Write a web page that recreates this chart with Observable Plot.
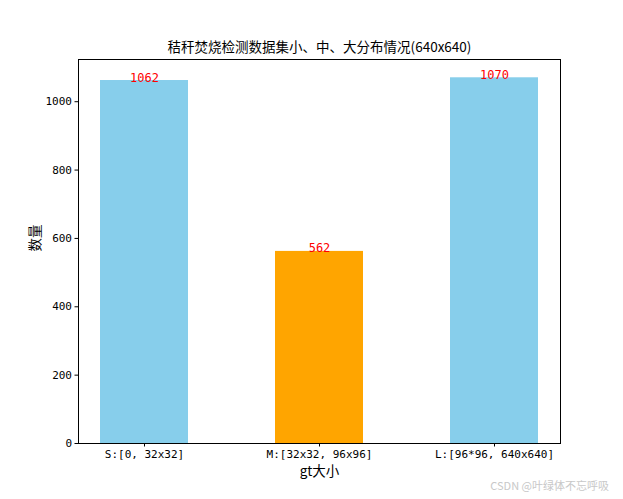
<!DOCTYPE html>
<html>
<head>
<meta charset="utf-8">
<script src="https://cdn.jsdelivr.net/npm/d3@7"></script>
<script src="https://cdn.jsdelivr.net/npm/@observablehq/plot@0.6"></script>
<style>
  html, body { margin: 0; padding: 0; background: #fff; }
  #wrap { position: relative; width: 623px; height: 499px; }
  #wm { position: absolute; right: 14px; bottom: 6px; font: 11px "Noto Sans CJK SC", sans-serif; color: #c8c8c8; }
</style>
</head>
<body>
<div id="wrap"><div id="chart"></div><div id="wm">CSDN @叶绿体不忘呼吸</div></div>
<script>
const categories = ["S:[0, 32x32]", "M:[32x32, 96x96]", "L:[96*96, 640x640]"];
const counts = [1062, 562, 1070];
const barColors = ["#87CEEB", "#FFA500", "#87CEEB"];
const yTicks = [0, 200, 400, 600, 800, 1000];
const title = "秸秆焚烧检测数据集小、中、大分布情况(640x640)";

const data = categories.map((c, i) => ({cat: c, n: counts[i], color: barColors[i]}));
const font = '"Noto Sans CJK SC", sans-serif';
const mono = '"DejaVu Sans Mono", "Noto Sans CJK SC", monospace';

const chart = Plot.plot({
  width: 623,
  height: 499,
  marginLeft: 78,
  marginRight: 63,
  marginTop: 59,
  marginBottom: 56,
  style: {fontFamily: mono, fontSize: "11px", color: "#000", background: "#fff"},
  x: {domain: categories, type: "band", paddingInner: 0.5, paddingOuter: 0.125, label: null},
  y: {domain: [0, 1123.5], label: null},
  marks: [
    Plot.barY(data, {x: "cat", y: "n", fill: "color"}),
    Plot.text(data, {x: "cat", y: "n", text: d => String(d.n), fill: "red", fontSize: 12, dy: 1, lineAnchor: "bottom", fontFamily: mono}),
    Plot.frame({stroke: "black", strokeWidth: 1}),
    Plot.axisY({ticks: yTicks, tickFormat: d => String(d), tickSize: 3.5, tickPadding: 3, fontSize: 11, fontFamily: mono, label: null}),
    Plot.axisX({tickSize: 3.5, tickPadding: 3, fontSize: 11, fontFamily: mono, label: null}),
    Plot.text([title], {frameAnchor: "top", dy: -12, lineAnchor: "middle", fontSize: 13.5, fill: "black", fontFamily: font}),
    Plot.text(["gt大小"], {frameAnchor: "bottom", dy: 28, lineAnchor: "middle", fontSize: 13.5, fill: "black", fontFamily: font}),
    Plot.text(["数量"], {frameAnchor: "left", dx: -43, rotate: -90, fontSize: 13.5, fill: "black", fontFamily: font})
  ]
});
document.getElementById("chart").appendChild(chart);
</script>
</body>
</html>
